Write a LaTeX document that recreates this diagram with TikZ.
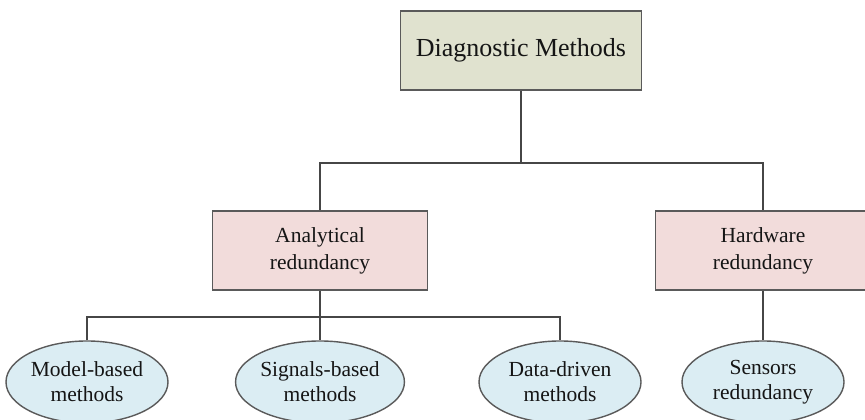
\documentclass[tikz,border=0pt]{standalone}
\usepackage{fontspec}
\setmainfont{Liberation Serif}
\usetikzlibrary{shapes.geometric}

\definecolor{rootfill}{HTML}{E0E2CF}
\definecolor{midfill}{HTML}{F2DCDB}
\definecolor{leaffill}{HTML}{DBEDF3}
\definecolor{edgegray}{HTML}{5A5A5A}
\definecolor{linegray}{HTML}{464646}
\definecolor{inkcol}{HTML}{151515}

\tikzset{
  x=1pt, y=1pt,
  rootbox/.style={draw=edgegray, line width=1.6pt, fill=rootfill,
    minimum width=241pt, minimum height=79pt, inner sep=0pt,
    font=\fontsize{26}{30}\selectfont, text=inkcol},
  midbox/.style={draw=edgegray, line width=1.6pt, fill=midfill,
    minimum width=215pt, minimum height=79pt, inner sep=0pt,
    align=center, font=\fontsize{21.5}{27}\selectfont, text=inkcol},
  leaf/.style={ellipse, draw=edgegray, line width=1.4pt, fill=leaffill,
    minimum width=162pt, minimum height=82pt, inner sep=0pt,
    align=center, font=\fontsize{21.5}{25}\selectfont, text=inkcol},
  link/.style={draw=linegray, line width=1.3pt}
}

\begin{document}
\begin{tikzpicture}
  \clip (0,0) rectangle (865,420);
  \fill[white] (0,0) rectangle (865,420);

  % root and second level
  \node[rootbox] (root) at (521,369.5) {Diagnostic Methods};
  \node[midbox] (ana) at (320,169.5) {Analytical\\redundancy};
  \node[midbox] (hw) at (763,169.5) {Hardware\\redundancy};

  % leaves
  \node[leaf] (mb) at (87,38) {Model-based\\methods};
  \node[leaf] (sb) at (320,38) {Signals-based\\methods};
  \node[leaf] (dd) at (560,38) {Data-driven\\methods};
  \node[leaf] (sr) at (763,38) {Sensors\\redundancy};

  % junction levels
  \coordinate (j1) at (521,257);
  \coordinate (j2) at (320,103);

  % root to second level
  \draw[link] (root.south) -- (j1);
  \draw[link] (ana.north) -- (ana.north |- j1) -- (hw.north |- j1) -- (hw.north);

  % analytical redundancy to its methods
  \draw[link] (ana.south) -- (j2);
  \draw[link] (mb.north) -- (mb.north |- j2) -- (dd.north |- j2) -- (dd.north);
  \draw[link] (j2) -- (sb.north);

  % hardware redundancy to sensors
  \draw[link] (hw.south) -- (sr.north);
\end{tikzpicture}
\end{document}
